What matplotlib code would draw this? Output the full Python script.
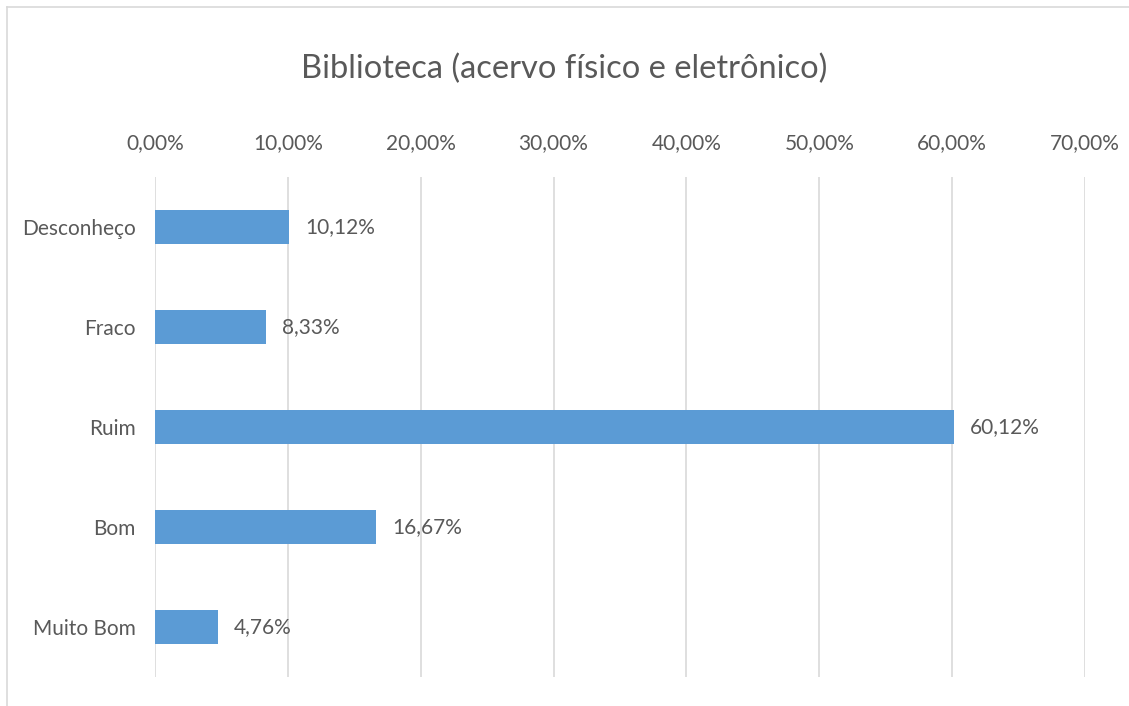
import matplotlib
matplotlib.use('Agg')
import matplotlib.pyplot as plt
from matplotlib.ticker import FuncFormatter
from matplotlib.lines import Line2D

plt.rcParams['font.family'] = ['Lato', 'DejaVu Sans']

categories = ['Desconheço', 'Fraco', 'Ruim', 'Bom', 'Muito Bom']
values = [10.12, 8.33, 60.12, 16.67, 4.76]
ticks = [0, 10, 20, 30, 40, 50, 60, 70]

txt = '#595959'
fig = plt.figure(figsize=(11.29, 7.06), dpi=100)
ax = fig.add_axes([0.1373, 0.0411, 0.961 - 0.1373, 0.7082])

ypos = list(range(len(categories)))
ax.barh(ypos, values, height=0.34, color='#5B9BD5', zorder=3)
ax.set_ylim(len(categories) - 0.5, -0.5)
ax.set_yticks(ypos)
ax.set_yticklabels(categories, fontsize=15, color=txt)

ax.set_xlim(0, 70)
ax.set_xticks(ticks)
ax.xaxis.set_major_formatter(FuncFormatter(lambda v, p: f'{v:.2f}%'.replace('.', ',')))
ax.xaxis.tick_top()
ax.tick_params(axis='x', labelsize=15, labelcolor=txt, length=0, pad=17)
ax.tick_params(axis='y', length=0, pad=14)
ax.grid(axis='x', color='#d9d9d9', linewidth=1.2, zorder=0)
for s in ax.spines.values():
    s.set_visible(False)

for y, v in zip(ypos, values):
    ax.text(v + 1.2, y, f'{v:.2f}%'.replace('.', ','), va='center', ha='left',
            fontsize=15, color=txt)

fig.text(0.5, 0.903, 'Biblioteca (acervo físico e eletrônico)', ha='center', va='center',
         fontsize=23.5, color=txt)

# chart border (left and top visible)
fig.add_artist(Line2D([7 / 1129, 7 / 1129], [0, 1 - 7 / 706], transform=fig.transFigure,
                      color='#d9d9d9', linewidth=1.2))
fig.add_artist(Line2D([7 / 1129, 1], [1 - 7 / 706, 1 - 7 / 706], transform=fig.transFigure,
                      color='#d9d9d9', linewidth=1.2))

fig.savefig('out.png', dpi=100)
